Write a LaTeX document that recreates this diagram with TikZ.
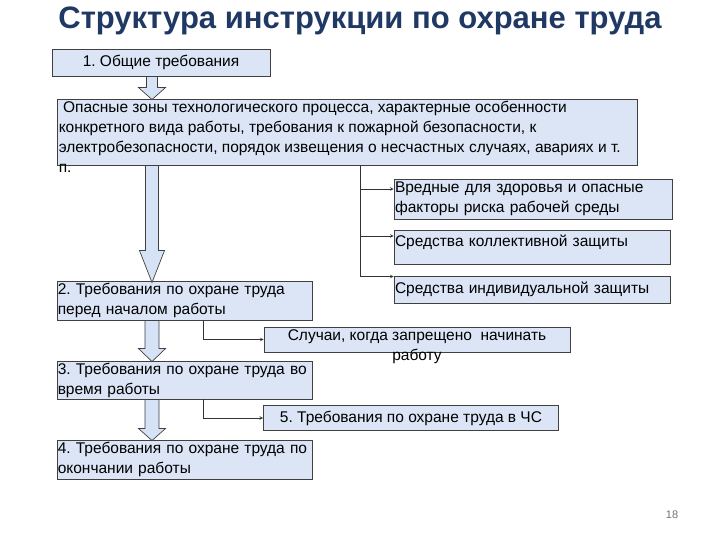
\documentclass[tikz,border=0pt]{standalone}
\usepackage{fontspec}
\setmainfont{Liberation Sans}
\usetikzlibrary{calc}
\definecolor{boxfill}{RGB}{219,229,246}
\definecolor{arrowfill}{RGB}{214,226,245}
\definecolor{titleblue}{RGB}{31,56,100}
\definecolor{edge}{RGB}{64,64,64}
\frenchspacing
\begin{document}
\begin{tikzpicture}[x=1pt,y=-1pt]
%define

\tikzstyle{box_c} = [rectangle, draw=edge, fill=boxfill, line width=0.9pt, inner sep=1pt, align=center, font=\fontsize{15.5}{20}\selectfont]
\tikzstyle{box_l} = [box_c, align=left]
\tikzstyle{arrow} = [->, >=stealth, draw=black!80, line width=0.6pt]
\tikzstyle{arrowh} = [draw=edge, fill=arrowfill, line width=0.7pt]

\fill[white](0,0)rectangle(720,540);
\useasboundingbox(0,0)rectangle(720,540);

%title
\node[font=\fontsize{31}{34}\selectfont\bfseries, text=titleblue](title) at (360,21){Структура инструкции по охране труда};

%block top
\node[box_c, minimum width=218, minimum height=27](box_General) at (161,62.5){1. Общие требования};
\node[box_c, minimum width=580, minimum height=66](box_Zones) at (347,132){};
\node[anchor=north west, align=left, inner sep=2pt, font=\fontsize{15.5}{20}\selectfont](txt_Zones) at (box_Zones.north west){\ Опасные зоны технологического процесса, характерные особенности\\конкретного вида работы, требования к пожарной безопасности, к\\электробезопасности, порядок извещения о несчастных случаях, авариях и т.\\п.};

%block right
\node[box_l, text width=276, minimum height=40](box_Harm) at (533,199){Вредные для здоровья и опасные\\факторы риска рабочей среды};
\node[box_l, text width=274, minimum height=34, text height=14, text depth=16](box_Collective) at (532,247){Средства коллективной защиты};
\node[box_l, text width=274, minimum height=27](box_Individual) at (532,289.5){Средства индивидуальной защиты};

%block left
\node[box_l, text width=253.5, inner xsep=0.75pt, minimum height=39](box_Before) at (184.5,300.5){2. Требования по охране труда\\перед началом работы};
\node[box_l, text width=253.5, inner xsep=0.75pt, minimum height=38](box_During) at (184.5,380){3. Требования по охране труда во\\время работы};
\node[box_l, text width=253.5, inner xsep=0.75pt, minimum height=39](box_After) at (184.5,459.5){4. Требования по охране труда по\\окончании работы};
\node[box_c, minimum width=306, minimum height=25](box_Cases) at (417,339.5){};
\node[anchor=north, align=center, inner sep=3pt, font=\fontsize{15.5}{20}\selectfont](txt_Cases) at (box_Cases.north){Случаи, когда запрещено~ начинать\\работу};
\node[box_c, minimum width=295, minimum height=25](box_Emergency) at (411,418){5. Требования по охране труда в ЧС};

\node[font=\fontsize{11}{13}\selectfont, text=black!55](page_No) at (672,515){18};

%hollow arrows
\draw[arrowh] let \p1=([xshift=-195pt]box_Zones.north), \p2=(box_General.south) in (\x1-5.5,\y2)--(\x1-5.5,\y1+11)--(\x1-13.5,\y1+11)--(\x1,\y1-1)--(\x1+13.5,\y1+11)--(\x1+5.5,\y1+11)--(\x1+5.5,\y2)--cycle; %General->Zones
\draw[arrowh] let \p1=([xshift=-32.5pt]box_Before.north), \p2=(box_Zones.south) in (\x1-6.5,\y2)--(\x1-6.5,\y1+30)--(\x1-12.5,\y1+30)--(\x1,\y1-2)--(\x1+12.5,\y1+30)--(\x1+6.5,\y1+30)--(\x1+6.5,\y2)--cycle; %Zones->Before
\draw[arrowh] let \p1=([xshift=-32.5pt]box_During.north), \p2=(box_Before.south) in (\x1-7,\y2)--(\x1-7,\y1+12)--(\x1-13.5,\y1+12)--(\x1,\y1-1)--(\x1+13.5,\y1+12)--(\x1+7,\y1+12)--(\x1+7,\y2)--cycle; %Before->During
\draw[arrowh] let \p1=([xshift=-32.5pt]box_After.north), \p2=(box_During.south) in (\x1-7,\y2)--(\x1-7,\y1+11)--(\x1-13.5,\y1+11)--(\x1,\y1-1)--(\x1+13.5,\y1+11)--(\x1+7,\y1+11)--(\x1+7,\y2)--cycle; %During->After

%line
\draw[arrow]([xshift=13pt]box_Zones.south)|-([yshift=10pt]box_Harm.west);
\draw[arrow]([xshift=13pt]box_Zones.south)|-([yshift=11pt]box_Collective.west);
\draw[arrow]([xshift=13pt]box_Zones.south)|-([yshift=13pt]box_Individual.west);
\draw[arrow]([xshift=18.5pt]box_Before.south)|-(box_Cases.west);
\draw[arrow]([xshift=18.5pt]box_During.south)|-(box_Emergency.west);

\end{tikzpicture}
\end{document}
